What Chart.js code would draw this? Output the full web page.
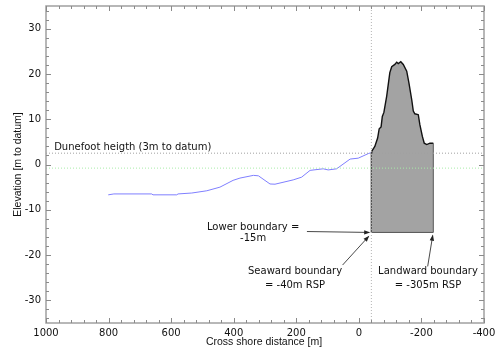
<!DOCTYPE html>
<html>
<head>
<meta charset="utf-8">
<script src="https://cdn.jsdelivr.net/npm/chart.js@4/dist/chart.umd.min.js"></script>
<style>
  html, body { margin: 0; padding: 0; background: #fff; }
  #wrap { width: 495px; height: 351px; }
</style>
</head>
<body>
<div id="wrap"><canvas id="profileChart" width="495" height="351"></canvas></div>
<script>
// cross-shore profile (seaward part)
const profileX = [801, 783, 662, 658, 582, 578, 534, 486, 444, 402, 380, 337, 321, 284, 268, 210, 183, 156, 114, 98, 71, 28, 2, -30, -38];
const profileY = [-6.7, -6.5, -6.5, -6.7, -6.7, -6.5, -6.3, -5.8, -5.0, -3.5, -3.0, -2.4, -2.5, -4.3, -4.35, -3.4, -2.8, -1.3, -0.95, -1.2, -0.95, 1.2, 1.4, 2.4, 2.6];

// dune part inside the volume box
const duneX = [-40, -41, -51, -60, -65, -71, -75, -80, -89, -99, -105, -115, -121, -126, -134, -142, -153, -160, -169, -174, -179, -190, -195, -203, -209, -217, -227, -238];
const duneY = [2.6, 2.9, 4.0, 5.85, 7.9, 8.3, 10.6, 11.5, 15.1, 20.3, 21.6, 22.1, 22.6, 22.3, 22.7, 22.1, 20.6, 18.0, 14.3, 11.8, 11.2, 11.0, 8.8, 6.2, 4.7, 4.4, 4.7, 4.7];

const seawardX = -40;
const landwardX = -238;
const lowerY = -15;
const dunefootY = 2.5;
const waterY = -0.8;

const xTicks = [1000, 800, 600, 400, 200, 0, -200, -400];
const yTicks = [-30, -20, -10, 0, 10, 20, 30];
const xMinorStep = 40;
const yMinorStep = 2;

const xMin = -400, xMax = 1000, yMin = -35, yMax = 35;

const pts = (xs, ys) => xs.map((x, i) => ({ x, y: ys[i] }));

const TXT = 'DejaVu Sans';

// text + arrows, in data units
const notes = [
  { x: 338, y: -13.8, text: 'Lower boundary =', align: 'center' },
  { x: 338, y: -16.3, text: '-15m', align: 'center' },
  { x: 204, y: -23.7, text: 'Seaward boundary', align: 'center' },
  { x: 204, y: -26.7, text: '= -40m RSP', align: 'center' },
  { x: -221, y: -23.7, text: 'Landward boundary', align: 'center' },
  { x: -221, y: -26.7, text: '= -305m RSP', align: 'center' },
  { x: 974, y: 3.7, text: 'Dunefoot heigth (3m to datum)', align: 'left' },
];
const arrows = [
  { x0: 166, y0: -14.8, x1: -33, y1: -15 },
  { x0: 52, y0: -22.2, x1: -31, y1: -15.9 },
  { x0: -220, y0: -22.5, x1: -236, y1: -15.7 },
];

const decorPlugin = {
  id: 'decor',
  afterDatasetsDraw(chart) {
    const { ctx, chartArea: a } = chart;
    const xs = chart.scales.x, ys = chart.scales.y;
    ctx.save();

    // arrows
    ctx.strokeStyle = '#333';
    ctx.fillStyle = '#222';
    ctx.lineWidth = 0.9;
    arrows.forEach(r => {
      const px0 = xs.getPixelForValue(r.x0), py0 = ys.getPixelForValue(r.y0);
      const px1 = xs.getPixelForValue(r.x1), py1 = ys.getPixelForValue(r.y1);
      ctx.beginPath();
      ctx.moveTo(px0, py0);
      ctx.lineTo(px1, py1);
      ctx.stroke();
      const ang = Math.atan2(py1 - py0, px1 - px0);
      const L = 5, W = 2.2;
      ctx.beginPath();
      ctx.moveTo(px1 + Math.cos(ang) * 1, py1 + Math.sin(ang) * 1);
      ctx.lineTo(px1 - Math.cos(ang) * L - Math.sin(ang) * W, py1 - Math.sin(ang) * L + Math.cos(ang) * W);
      ctx.lineTo(px1 - Math.cos(ang) * L + Math.sin(ang) * W, py1 - Math.sin(ang) * L - Math.cos(ang) * W);
      ctx.closePath();
      ctx.fill();
    });

    // labels
    ctx.font = '10px "' + TXT + '"';
    ctx.fillStyle = '#111';
    ctx.textBaseline = 'middle';
    notes.forEach(n => {
      ctx.textAlign = n.align;
      ctx.fillText(n.text, xs.getPixelForValue(n.x), ys.getPixelForValue(n.y));
    });

    // frame
    ctx.strokeStyle = '#a0a0a0';
    ctx.lineWidth = 1.5;
    ctx.strokeRect(a.left, a.top, a.right - a.left, a.bottom - a.top);

    // inward tick marks on all four sides
    ctx.strokeStyle = '#8a8a8a';
    ctx.lineWidth = 1;
    ctx.beginPath();
    for (let v = xMin; v <= xMax; v += xMinorStep) {
      const px = Math.round(xs.getPixelForValue(v)) + 0.5;
      const len = xTicks.includes(v) ? 5 : 3;
      ctx.moveTo(px, a.bottom); ctx.lineTo(px, a.bottom - len);
      ctx.moveTo(px, a.top); ctx.lineTo(px, a.top + len);
    }
    for (let v = yMin + 1; v <= yMax; v += yMinorStep) {
      const py = Math.round(ys.getPixelForValue(v)) + 0.5;
      const len = yTicks.includes(v) ? 5 : 3;
      ctx.moveTo(a.left, py); ctx.lineTo(a.left + len, py);
      ctx.moveTo(a.right, py); ctx.lineTo(a.right - len, py);
    }
    ctx.stroke();

    // axis titles
    ctx.fillStyle = '#111';
    ctx.font = '10.5px "Liberation Sans"';
    ctx.textAlign = 'center';
    ctx.textBaseline = 'middle';
    ctx.fillText('Cross shore distance [m]', (a.left + a.right) / 2 - 1, 342);
    ctx.translate(18, (a.top + a.bottom) / 2);
    ctx.rotate(-Math.PI / 2);
    ctx.fillText('Elevation [m to datum]', 0, 0);
    ctx.restore();
  }
};

const line = (data, extra) => Object.assign({
  data, showLine: true, pointRadius: 0, pointHoverRadius: 0, borderWidth: 1, tension: 0, fill: false,
}, extra);

new Chart(document.getElementById('profileChart'), {
  type: 'scatter',
  data: {
    datasets: [
      line(pts([seawardX, seawardX], [yMin, yMax]), { borderColor: '#b4b4b4', borderDash: [1, 2], order: 1 }),
      line(pts([xMax, xMin], [dunefootY, dunefootY]), { borderColor: '#a0a0a0', borderDash: [1, 2], order: 1 }),
      line(pts([xMax, xMin], [waterY, waterY]), { borderColor: '#a8eca8', borderDash: [1, 2], order: 1 }),
      line(pts(duneX, duneY), { borderColor: '#111', borderWidth: 1.4, fill: { value: lowerY }, backgroundColor: '#a3a3a3', order: 3 }),
      line(pts([seawardX, seawardX, landwardX, landwardX], [duneY[0], lowerY, lowerY, duneY[duneY.length - 1]]), { borderColor: '#555', borderWidth: 1, order: 2 }),
      line(pts(profileX, profileY), { borderColor: '#7f7fff', borderWidth: 1, order: 2 }),
    ]
  },
  options: {
    responsive: false,
    animation: false,
    devicePixelRatio: 1,
    layout: { padding: { top: 6, right: 11, left: 0, bottom: 0 } },
    plugins: { legend: { display: false }, tooltip: { enabled: false } },
    scales: {
      x: {
        type: 'linear', reverse: true, min: xMin, max: xMax,
        grid: { display: false, drawTicks: false },
        border: { display: false },
        ticks: { color: '#111', font: { family: TXT, size: 10 }, padding: 4, maxRotation: 0, callback: v => String(v) },
        afterBuildTicks: s => { s.ticks = xTicks.map(v => ({ value: v })); },
        afterFit: s => { s.height = 28; s.paddingLeft = 0; s.paddingRight = 0; },
      },
      y: {
        type: 'linear', min: yMin, max: yMax,
        grid: { display: false, drawTicks: false },
        border: { display: false },
        ticks: { color: '#111', font: { family: TXT, size: 10 }, padding: 5, callback: v => String(v) },
        afterBuildTicks: s => { s.ticks = yTicks.map(v => ({ value: v })); },
        afterFit: s => { s.width = 46; s.paddingTop = 0; s.paddingBottom = 0; },
      }
    }
  },
  plugins: [decorPlugin]
});
</script>
</body>
</html>
